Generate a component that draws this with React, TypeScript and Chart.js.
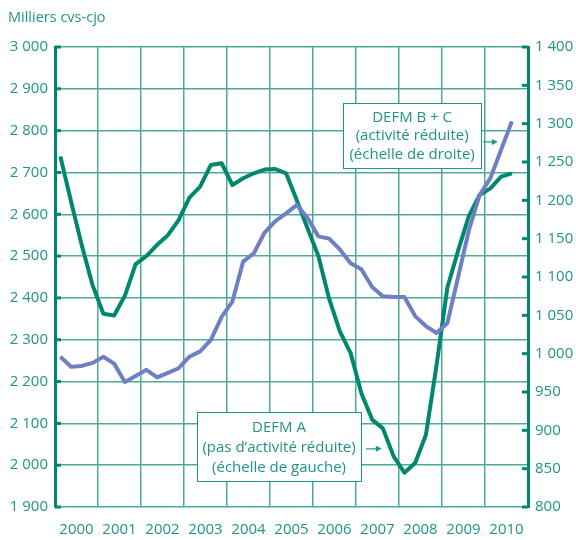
import { useEffect, useRef } from 'react';
import { Chart, registerables } from 'chart.js';

Chart.register(...registerables);

// ---- data (quarterly, 2000 Q1 .. 2010 Q3) ----
const years = ['2000', '2001', '2002', '2003', '2004', '2005', '2006', '2007', '2008', '2009', '2010'];

// DEFM A (left scale, thousands)
const defmA = [
  2738, 2630, 2525, 2430,
  2362, 2358, 2405, 2481,
  2500, 2527, 2550, 2586,
  2640, 2666, 2718, 2722,
  2670, 2686, 2698, 2707,
  2708, 2698, 2633, 2566,
  2500, 2398, 2320, 2268,
  2172, 2109, 2088, 2021,
  1982, 2005, 2072, 2240,
  2425, 2513, 2596, 2646,
  2662, 2690, 2698,
];

// DEFM B + C (right scale, thousands)
const defmBC = [
  996, 983, 984, 988,
  996, 987, 963, 971,
  979, 969, 975, 981,
  996, 1003, 1018, 1048,
  1068, 1120, 1131, 1158,
  1173, 1183, 1194, 1177,
  1153, 1150, 1136, 1118,
  1110, 1087, 1075, 1074,
  1074, 1049, 1036, 1027,
  1040, 1100, 1161, 1207,
  1229, 1266, 1303,
];

const leftRange = [1900, 3000];
const rightRange = [800, 1400];

const TEXT = '#1f9584';
const AXIS = '#00866d';
const GRID = '#4fa99a';
const GREEN = '#00886f';
const BLUE = '#6f7fc4';
const FONT = '"Open Sans", "Noto Sans", sans-serif';

const fmt = (v: number) =>
  v >= 1000 ? `${Math.floor(v / 1000)} ${String(v % 1000).padStart(3, '0')}` : String(v);

const quarterX = (i: number) => Number(years[0]) + (i + 0.5) / 4;

// annotation boxes: [x0, x1] in years, [yTop, yBottom] in left-scale units
const annotations = [
  {
    lines: ['DEFM B + C', '(activité réduite)', '(échelle de droite)'],
    x: [2006.7, 2009.91],
    y: [2866, 2711],
    arrow: { x: [2009.95, 2010.3], y: 2773 },
  },
  {
    lines: ['DEFM A', '(pas d\u2019activité réduite)', '(échelle de gauche)'],
    x: [2003.3, 2007.12],
    y: [2127, 1962],
    arrow: { x: [2007.23, 2007.6], y: 2039 },
  },
];

const overlay = {
  id: 'overlay',
  afterDatasetsDraw(chart: any) {
    const ctx = chart.ctx as CanvasRenderingContext2D;
    const xs = chart.scales.x;
    const ys = chart.scales.y;
    const y1 = chart.scales.y1;
    ctx.save();
    // inward tick marks
    ctx.strokeStyle = AXIS;
    ctx.lineWidth = 3;
    ys.ticks.forEach((t: any) => {
      const py = ys.getPixelForValue(t.value);
      ctx.beginPath();
      ctx.moveTo(xs.left, py);
      ctx.lineTo(xs.left + 6, py);
      ctx.stroke();
    });
    y1.ticks.forEach((t: any) => {
      const py = y1.getPixelForValue(t.value);
      ctx.beginPath();
      ctx.moveTo(xs.right, py);
      ctx.lineTo(xs.right - 6, py);
      ctx.stroke();
    });
    // title
    ctx.fillStyle = TEXT;
    ctx.font = `14.5px ${FONT}`;
    ctx.textAlign = 'left';
    ctx.textBaseline = 'middle';
    ctx.fillText('Milliers cvs-cjo', 8, 18);

    // annotation boxes
    annotations.forEach((a) => {
      const l = xs.getPixelForValue(a.x[0]);
      const r = xs.getPixelForValue(a.x[1]);
      const t = ys.getPixelForValue(a.y[0]);
      const b = ys.getPixelForValue(a.y[1]);
      ctx.fillStyle = '#ffffff';
      ctx.fillRect(l, t, r - l, b - t);
      ctx.strokeStyle = TEXT;
      ctx.lineWidth = 1;
      ctx.strokeRect(Math.round(l) + 0.5, Math.round(t) + 0.5, Math.round(r - l), Math.round(b - t));
      ctx.fillStyle = TEXT;
      ctx.font = `15px ${FONT}`;
      ctx.textAlign = 'center';
      ctx.textBaseline = 'middle';
      const fr = [0.22, 0.51, 0.8];
      a.lines.forEach((s, i) => ctx.fillText(s, (l + r) / 2, t + (b - t) * fr[i]));
      // arrow
      const ax0 = xs.getPixelForValue(a.arrow.x[0]);
      const ax1 = xs.getPixelForValue(a.arrow.x[1]);
      const ay = ys.getPixelForValue(a.arrow.y);
      ctx.strokeStyle = TEXT;
      ctx.lineWidth = 1.2;
      ctx.beginPath();
      ctx.moveTo(ax0, ay);
      ctx.lineTo(ax1 - 4, ay);
      ctx.stroke();
      ctx.beginPath();
      ctx.moveTo(ax1, ay);
      ctx.lineTo(ax1 - 6, ay - 3);
      ctx.lineTo(ax1 - 6, ay + 3);
      ctx.closePath();
      ctx.fill();
    });
    ctx.restore();
  },
};

export default function App() {
  const ref = useRef<HTMLCanvasElement | null>(null);

  useEffect(() => {
    if (!ref.current) return;
    const chart = new Chart(ref.current, {
      type: 'line',
      data: {
        datasets: [
          {
            label: 'DEFM B + C',
            data: defmBC.map((v, i) => ({ x: quarterX(i), y: v })),
            xAxisID: 'x',
            yAxisID: 'y1',
            borderColor: BLUE,
            borderWidth: 4,
            pointRadius: 0,
            tension: 0,
            borderJoinStyle: 'round',
          },
          {
            label: 'DEFM A',
            data: defmA.map((v, i) => ({ x: quarterX(i), y: v })),
            xAxisID: 'x',
            yAxisID: 'y',
            borderColor: GREEN,
            borderWidth: 4,
            pointRadius: 0,
            tension: 0,
            borderJoinStyle: 'round',
          },
        ],
      },
      options: {
        animation: false,
        responsive: true,
        maintainAspectRatio: false,
        layout: { padding: { top: 47, left: 0, right: 0, bottom: 0 } },
        plugins: { legend: { display: false }, tooltip: { enabled: false }, title: { display: false } },
        scales: {
          x: {
            type: 'linear',
            min: Number(years[0]),
            max: Number(years[years.length - 1]) + 1,
            position: 'bottom',
            ticks: { display: false, stepSize: 1 },
            grid: { color: GRID, lineWidth: 1.5, drawTicks: false },
            border: { display: false },
            afterFit(s: any) { s.height = 0; },
          },
          x2: {
            type: 'category',
            labels: years,
            offset: true,
            position: 'bottom',
            grid: { display: false, drawTicks: false },
            border: { display: false },
            ticks: { color: TEXT, font: { family: FONT, size: 15 }, padding: 14, maxRotation: 0, autoSkip: false },
            afterFit(s: any) { s.height = 33; },
          },
          y: {
            type: 'linear',
            position: 'left',
            min: leftRange[0],
            max: leftRange[1],
            ticks: { stepSize: 100, color: TEXT, font: { family: FONT, size: 15 }, padding: 7, callback: (v: any) => fmt(Number(v)) },
            grid: { color: GRID, lineWidth: 1.5, drawTicks: false },
            border: { color: AXIS, width: 3 },
            afterFit(s: any) { s.width = 55; },
          },
          y1: {
            type: 'linear',
            position: 'right',
            min: rightRange[0],
            max: rightRange[1],
            ticks: { stepSize: 50, color: TEXT, font: { family: FONT, size: 15 }, padding: 7, callback: (v: any) => fmt(Number(v)) },
            grid: { display: false, drawTicks: false },
            border: { color: AXIS, width: 3 },
            afterFit(s: any) { s.width = 48; },
          },
        },
      } as any,
      plugins: [overlay],
    });
    return () => chart.destroy();
  }, []);

  return (
    <div style={{ position: 'fixed', left: 0, top: 0, width: 576, height: 540, background: '#fff' }}>
      <canvas ref={ref} />
    </div>
  );
}
